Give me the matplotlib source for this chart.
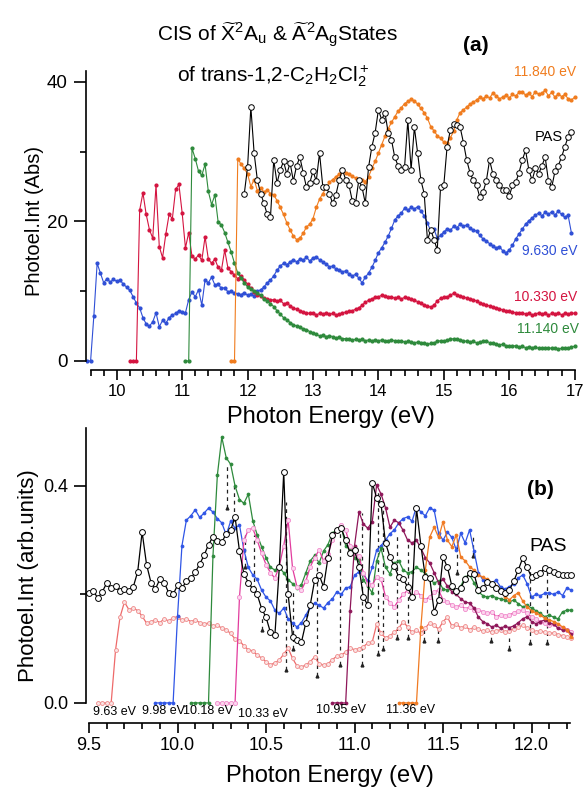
import matplotlib
matplotlib.use("Agg")
import matplotlib.pyplot as plt
import numpy as np
from matplotlib.ticker import MultipleLocator, FormatStrFormatter

plt.rcParams['font.family'] = ['Liberation Sans', 'DejaVu Sans']
plt.rcParams['mathtext.fontset'] = 'custom'
plt.rcParams['mathtext.rm'] = 'Liberation Sans'
plt.rcParams['mathtext.it'] = 'Liberation Sans:italic'
plt.rcParams['mathtext.bf'] = 'Liberation Sans:bold'

# ---------------- panel (a): CIS, absolute photoelectron intensity ----------------
# each series sampled every 0.05 eV from its start energy
a_step = 0.05

a_blue_start = 9.55   # 9.630 eV
a_blue = [0, 0, 6.5, 14.0, 12.6, 11.2, 11.8, 11.3, 11.7, 11.4, 11.6, 11.0, 10.6, 10.1, 9.2, 8.3,
          7.6, 6.2, 5.3, 5.0, 5.6, 6.9, 4.9, 5.8, 5.4, 6.2, 6.6, 6.8, 7.2, 7.0, 6.9, 8.8, 9.9, 9.2,
          10.2, 8.0, 11.6, 11.2, 12.0, 10.9, 11.0, 10.4, 10.5, 9.9, 10.0, 9.7, 9.6, 9.5, 9.8, 9.4,
          9.6, 9.3, 10.0, 10.2, 10.6, 11.2, 11.6, 12.2, 13.0, 13.6, 14.0, 13.8, 14.2, 14.5, 14.2,
          14.6, 14.4, 14.9, 14.3, 14.8, 14.9, 14.5, 14.2, 13.9, 13.5, 13.6, 13.2, 13.0, 12.8, 12.9,
          12.5, 12.2, 12.4, 11.9, 11.2, 12.0, 12.6, 13.4, 14.4, 15.5, 16.2, 17.0, 17.9, 19.0, 20.2,
          20.8, 21.2, 21.9, 21.6, 22.0, 21.8, 22.1, 21.5, 20.8, 19.8, 18.6, 18.9, 17.6, 18.0, 18.5,
          18.9, 18.7, 19.3, 19.1, 19.6, 19.3, 19.5, 19.0, 18.8, 18.6, 18.0, 17.5, 17.2, 16.8, 16.5,
          16.2, 16.4, 15.8, 15.5, 15.9, 16.6, 17.5, 18.2, 18.9, 19.6, 20.1, 20.5, 20.9, 21.2, 20.8,
          21.3, 21.0, 21.4, 20.9, 21.5, 21.0, 20.6, 20.9, 18.4]

a_red_start = 10.20   # 10.330 eV
a_red = [0, 0, 0, 21.6, 24.1, 21.0, 18.8, 17.6, 25.2, 16.4, 14.8, 18.2, 21.0, 20.4, 24.6, 25.3,
         21.2, 16.2, 18.4, 15.0, 14.6, 15.2, 14.4, 17.8, 14.6, 14.0, 14.6, 13.4, 13.0, 15.9, 13.3,
         12.8, 12.3, 11.8, 12.2, 11.6, 11.0, 10.4, 9.9, 9.5, 9.3, 9.0, 8.9, 8.7, 8.8, 8.6, 8.7,
         8.2, 8.3, 7.9, 7.6, 7.4, 7.2, 7.0, 6.9, 6.8, 6.9, 6.6, 6.8, 6.7, 6.9, 6.7, 6.8, 6.6, 6.7,
         6.9, 7.0, 7.1, 7.2, 7.4, 7.6, 8.0, 8.4, 8.7, 8.9, 9.1, 9.2, 9.4, 9.3, 9.1, 9.2, 9.0, 9.1,
         8.9, 9.1, 9.0, 8.9, 8.7, 8.5, 8.3, 8.0, 7.9, 7.7, 8.0, 8.6, 9.0, 9.1, 9.2, 9.4, 9.7, 9.5,
         9.3, 9.2, 9.0, 8.9, 8.8, 8.6, 8.3, 8.2, 8.0, 7.9, 7.7, 7.6, 7.5, 7.3, 7.2, 7.1, 7.0, 6.9,
         6.8, 6.9, 6.7, 6.8, 6.6, 6.7, 6.9, 6.7, 6.8, 6.6, 6.8, 6.7, 6.9, 6.6, 6.8, 6.7, 6.9, 6.8]

a_green_start = 11.05   # 11.140 eV
a_green = [0, 0, 30.5, 29.0, 27.2, 26.6, 28.2, 24.3, 22.4, 23.8, 19.9, 19.5, 18.4, 17.0, 15.6,
           14.0, 12.6, 11.9, 11.2, 10.6, 10.3, 10.0, 9.8, 9.4, 8.9, 8.6, 8.2, 7.8, 7.2, 6.7, 6.2,
           5.9, 5.5, 5.2, 5.0, 4.8, 4.6, 4.5, 4.2, 4.0, 3.8, 3.6, 3.7, 3.5, 3.6, 3.5, 3.3, 3.4, 3.2,
           3.2, 3.1, 3.0, 3.1, 3.0, 3.1, 2.9, 3.0, 2.9, 3.0, 2.9, 3.0, 2.8, 2.9, 3.0, 2.9, 2.8, 2.9,
           2.7, 2.8, 2.7, 2.6, 2.7, 2.5, 2.6, 2.4, 2.5, 2.6, 2.8, 2.9, 2.8, 3.0, 3.1, 3.2, 3.1, 3.0,
           2.9, 2.8, 2.7, 2.8, 2.6, 2.7, 2.8, 2.9, 2.6, 2.5, 2.4, 2.3, 2.4, 2.2, 2.2, 2.1, 2.2, 2.0,
           2.1, 1.9, 2.0, 1.9, 2.0, 1.8, 1.9, 1.8, 1.9, 1.8, 1.9, 1.7, 1.8, 1.9, 1.8, 2.0, 2.1]

a_orange_start = 11.75   # 11.840 eV
a_orange = [0, 0, 29.0, 28.2, 27.6, 26.8, 25.0, 26.0, 24.4, 24.8, 24.2, 24.5, 24.0, 23.8, 23.0,
            22.0, 21.0, 19.8, 18.8, 17.9, 17.4, 17.6, 18.3, 19.2, 19.6, 20.4, 22.0, 23.2, 24.0,
            24.8, 25.6, 26.0, 26.4, 26.8, 27.2, 27.0, 26.8, 26.5, 26.2, 25.9, 26.0, 25.7, 26.4,
            27.6, 28.6, 29.8, 31.0, 32.2, 33.3, 34.2, 35.0, 35.8, 36.3, 36.9, 37.2, 37.5, 37.3,
            36.8, 36.2, 35.6, 34.8, 33.6, 33.0, 32.3, 31.9, 31.4, 31.2, 32.0, 32.9, 34.6, 35.6,
            36.0, 36.4, 36.8, 37.1, 37.4, 37.8, 37.6, 38.0, 37.7, 38.4, 38.0, 37.6, 37.8, 38.1,
            37.7, 38.2, 38.0, 38.5, 38.6, 38.1, 38.4, 37.9, 38.6, 38.2, 38.4, 38.8, 38.0, 38.5,
            37.8, 38.3, 37.9, 38.2, 37.6, 37.4, 37.8]

a_pas_start = 11.95
a_pas = [24.0, 27.8, 36.4, 29.8, 25.9, 24.0, 22.6, 21.0, 20.6, 28.8, 25.5, 27.4, 28.6, 26.8,
         28.4, 25.8, 28.0, 29.2, 27.0, 24.9, 25.5, 27.2, 25.8, 29.8, 25.0, 24.9, 24.0, 22.6, 23.8,
         25.9, 27.4, 26.0, 25.2, 23.0, 22.6, 25.9, 24.9, 22.6, 27.8, 30.7, 32.7, 36.0, 34.6, 35.6,
         32.7, 31.7, 29.2, 28.0, 27.4, 27.8, 34.5, 27.4, 33.5, 29.8, 25.9, 24.0, 17.3, 18.8, 17.4,
         15.9, 24.9, 25.2, 30.7, 33.1, 34.0, 33.8, 33.5, 31.3, 28.8, 27.0, 25.9, 25.2, 23.5, 24.2,
         25.8, 28.8, 26.8, 26.0, 25.2, 24.5, 24.5, 23.6, 25.2, 25.6, 27.0, 28.8, 30.2, 27.4, 25.9,
         27.6, 26.8, 28.0, 29.2, 25.8, 24.9, 27.2, 28.0, 29.2, 30.7, 32.1, 32.8]

# ---------------- panel (b): CIS, arbitrary units ----------------
b_step = 0.025

b_red_start = 9.55   # 9.63 eV
b_red = [0, 0, 0, 0, 0.098, 0.158, 0.186, 0.172, 0.175, 0.170, 0.160, 0.147, 0.150, 0.153, 0.148,
         0.155, 0.151, 0.157, 0.159, 0.152, 0.155, 0.150, 0.153, 0.148, 0.146, 0.147, 0.142, 0.143,
         0.138, 0.135, 0.128, 0.118, 0.115, 0.105, 0.098, 0.096, 0.088, 0.083, 0.076, 0.070, 0.074,
         0.079, 0.090, 0.101, 0.082, 0.068, 0.066, 0.070, 0.076, 0.085, 0.072, 0.070, 0.072, 0.080,
         0.086, 0.088, 0.094, 0.101, 0.098, 0.100, 0.104, 0.110, 0.112, 0.145, 0.128, 0.120, 0.124,
         0.130, 0.138, 0.150, 0.140, 0.130, 0.134, 0.128, 0.138, 0.148, 0.143, 0.136, 0.150, 0.158,
         0.142, 0.146, 0.138, 0.142, 0.135, 0.140, 0.136, 0.132, 0.134, 0.130, 0.133, 0.135, 0.131,
         0.133, 0.137, 0.140, 0.143, 0.138, 0.134, 0.131, 0.133, 0.130, 0.128, 0.129, 0.126, 0.124,
         0.122, 0.119]

b_blue_start = 9.875   # 9.98 eV
b_blue = [0, 0, 0, 0, 0, 0.160, 0.290, 0.337, 0.345, 0.356, 0.342, 0.350, 0.359, 0.352, 0.340,
          0.332, 0.310, 0.335, 0.322, 0.328, 0.282, 0.250, 0.236, 0.228, 0.208, 0.195, 0.188, 0.171,
          0.165, 0.175, 0.155, 0.147, 0.140, 0.148, 0.162, 0.177, 0.184, 0.180, 0.175, 0.185, 0.192,
          0.205, 0.200, 0.212, 0.214, 0.235, 0.242, 0.238, 0.225, 0.250, 0.282, 0.290, 0.300, 0.312,
          0.319, 0.332, 0.340, 0.343, 0.335, 0.362, 0.352, 0.345, 0.360, 0.355, 0.313, 0.300, 0.315,
          0.305, 0.282, 0.313, 0.295, 0.319, 0.280, 0.240, 0.227, 0.225, 0.222, 0.226, 0.214, 0.210,
          0.214, 0.220, 0.230, 0.236, 0.220, 0.195, 0.200, 0.198, 0.202, 0.203, 0.200, 0.205, 0.198,
          0.212, 0.208]

b_green_start = 10.075   # 10.18 eV
b_green = [0, 0, 0, 0, 0, 0.270, 0.420, 0.490, 0.452, 0.440, 0.400, 0.375, 0.368, 0.385, 0.336,
           0.310, 0.288, 0.268, 0.250, 0.245, 0.250, 0.240, 0.227, 0.220, 0.212, 0.218, 0.240,
           0.262, 0.272, 0.258, 0.280, 0.292, 0.313, 0.320, 0.324, 0.290, 0.282, 0.268, 0.264,
           0.227, 0.215, 0.203, 0.262, 0.285, 0.250, 0.238, 0.258, 0.262, 0.245, 0.240, 0.242,
           0.250, 0.245, 0.238, 0.228, 0.221, 0.225, 0.210, 0.208, 0.212, 0.205, 0.215, 0.232,
           0.236, 0.222, 0.205, 0.198, 0.195, 0.198, 0.194, 0.192, 0.190, 0.186, 0.190, 0.183,
           0.177, 0.180, 0.175, 0.170, 0.165, 0.159, 0.162, 0.158, 0.155, 0.168, 0.171, 0.171]

b_pink_start = 10.225   # 10.33 eV
b_pink = [0, 0, 0, 0, 0, 0.195, 0.300, 0.319, 0.322, 0.300, 0.276, 0.255, 0.240, 0.230, 0.252,
          0.290, 0.337, 0.248, 0.214, 0.208, 0.225, 0.251, 0.268, 0.282, 0.262, 0.275, 0.300, 0.319,
          0.328, 0.318, 0.290, 0.276, 0.270, 0.240, 0.220, 0.218, 0.232, 0.228, 0.196, 0.185, 0.177,
          0.190, 0.200, 0.208, 0.196, 0.205, 0.198, 0.190, 0.196, 0.204, 0.208, 0.190, 0.186, 0.180,
          0.177, 0.180, 0.174, 0.176, 0.172, 0.171, 0.168, 0.165, 0.168, 0.159, 0.162, 0.160, 0.162,
          0.166, 0.170, 0.171, 0.166, 0.158, 0.154, 0.150, 0.147, 0.143, 0.145, 0.140, 0.138, 0.135,
          0.131]

b_purple_start = 10.875   # 10.95 eV
b_purple = [0, 0, 0, 0, 0.170, 0.290, 0.352, 0.330, 0.322, 0.334, 0.402, 0.385, 0.360, 0.324,
            0.337, 0.332, 0.318, 0.300, 0.295, 0.300, 0.285, 0.268, 0.258, 0.240, 0.221, 0.228,
            0.215, 0.205, 0.200, 0.192, 0.186, 0.184, 0.175, 0.158, 0.150, 0.146, 0.140, 0.143,
            0.138, 0.141, 0.139, 0.142, 0.148, 0.155, 0.159, 0.150, 0.146, 0.150, 0.153, 0.148,
            0.145, 0.138, 0.134, 0.135, 0.127]

b_orange_start = 11.25   # 11.36 eV
b_orange = [0, 0, 0, 0, 0, 0.140, 0.245, 0.306, 0.324, 0.305, 0.334, 0.300, 0.288, 0.310, 0.269,
            0.262, 0.251, 0.245, 0.236, 0.232, 0.228, 0.221, 0.216, 0.205, 0.196, 0.190, 0.198,
            0.203, 0.188, 0.177, 0.170, 0.166, 0.162, 0.156, 0.153, 0.150, 0.146, 0.140, 0.135,
            0.122]

b_pas_start = 9.50
b_pas = [0.203, 0.206, 0.193, 0.205, 0.221, 0.212, 0.215, 0.206, 0.210, 0.207, 0.214, 0.242, 0.315,
         0.255, 0.222, 0.210, 0.228, 0.222, 0.203, 0.200, 0.217, 0.212, 0.224, 0.230, 0.241, 0.256,
         0.272, 0.292, 0.306, 0.298, 0.296, 0.312, 0.318, 0.343, 0.280, 0.238, 0.222, 0.210, 0.200,
         0.174, 0.158, 0.130, 0.125, 0.250, 0.426, 0.200, 0.122, 0.116, 0.112, 0.148, 0.181, 0.227,
         0.236, 0.214, 0.268, 0.310, 0.319, 0.322, 0.300, 0.276, 0.282, 0.251, 0.195, 0.180, 0.406,
         0.378, 0.366, 0.295, 0.269, 0.252, 0.232, 0.228, 0.214, 0.195, 0.359, 0.290, 0.232, 0.230,
         0.168, 0.190, 0.269, 0.250, 0.215, 0.206, 0.212, 0.228, 0.240, 0.238, 0.208, 0.212, 0.223,
         0.220, 0.212, 0.206, 0.203, 0.208, 0.225, 0.245, 0.267, 0.250, 0.232, 0.236, 0.240, 0.249,
         0.245, 0.242, 0.238, 0.236, 0.236, 0.236]

# vibrational progression markers (dashed lines) in panel (b)
vib_x = [10.28, 10.32, 10.38, 10.43, 10.48, 10.61, 10.65, 10.79, 10.92, 11.04, 11.13, 11.16,
         11.24, 11.30, 11.39, 11.47, 11.58, 11.67, 11.77, 11.87, 11.99, 12.09]
vib_top = [0.44, 0.40, 0.31, 0.31, 0.16, 0.37, 0.21, 0.26, 0.32, 0.35, 0.39, 0.37,
           0.31, 0.30, 0.14, 0.14, 0.30, 0.31, 0.135, 0.12, 0.25, 0.25]
vib_bottom = [0.36, 0.34, 0.25, 0.21, 0.135, 0.06, 0.10, 0.05, 0.07, 0.07, 0.09, 0.10,
              0.12, 0.12, 0.115, 0.115, 0.24, 0.27, 0.115, 0.10, 0.11, 0.11]

threshold_labels = ["9.63 eV", "9.98 eV", "10.18 eV", "10.33 eV", "10.95 eV", "11.36 eV"]
threshold_label_x = [9.52, 9.80, 10.03, 10.34, 10.78, 11.18]
threshold_label_y = [-0.017, -0.015, -0.015, -0.020, -0.014, -0.014]


def energies(start, step, values):
    return start + step * np.arange(len(values))


fig = plt.figure(figsize=(5.84, 7.95), dpi=100)
ax1 = fig.add_axes([0.1473, 0.5346, 0.840, 0.3755])
ax2 = fig.add_axes([0.1473, 0.0906, 0.8356, 0.3711])

c_blue = '#2f4fd6'
c_red = '#d41440'
c_green = '#2e8a3c'
c_orange = '#f07c1e'

dot = dict(marker='o', markersize=2.0, linewidth=0.8)
for start, vals, col in [(a_blue_start, a_blue, c_blue), (a_red_start, a_red, c_red),
                         (a_green_start, a_green, c_green), (a_orange_start, a_orange, c_orange)]:
    ax1.plot(energies(start, a_step, vals), vals, color=col, markerfacecolor=col,
             markeredgecolor=col, **dot)
ax1.plot(energies(a_pas_start, a_step, a_pas), a_pas, color='black', linewidth=0.8, marker='o',
         markersize=4.0, markerfacecolor='white', markeredgecolor='black', markeredgewidth=0.7)

ax1.set_xlim(9.53, 17.03)
ax1.set_ylim(-1.3, 41.5)
ax1.text(17.02, 41.4, "11.840 eV", color=c_orange, fontsize=10, ha='right', va='center')
ax1.text(16.82, 32.1, "PAS", color='black', fontsize=10.5, ha='right', va='center')
ax1.text(17.04, 15.8, "9.630 eV", color=c_blue, fontsize=10, ha='right', va='center')
ax1.text(17.04, 9.2, "10.330 eV", color=c_red, fontsize=10, ha='right', va='center')
ax1.text(17.06, 4.6, "11.140 eV", color=c_green, fontsize=10, ha='right', va='center')
ax1.set_xlabel("Photon Energy (eV)", fontsize=17, labelpad=5)
ax1.set_ylabel("Photoel.Int (Abs)", fontsize=14.5, labelpad=2)
ax1.xaxis.set_major_locator(MultipleLocator(1))
ax1.xaxis.set_minor_locator(MultipleLocator(0.2))
ax1.yaxis.set_major_locator(MultipleLocator(20))
ax1.yaxis.set_minor_locator(MultipleLocator(10))
ax1.spines['left'].set_bounds(0, 41.5)
ax1.spines['bottom'].set_bounds(9.6, 17.0)

# panel (b)
b_series = [
    (b_red_start, b_red, '#ee6a6a', '#fbe3e3', '#ef8a8a', 2.8),
    (b_blue_start, b_blue, '#2f55e6', '#2f55e6', '#2f55e6', 2.1),
    (b_green_start, b_green, '#2e8a3c', '#2e8a3c', '#2e8a3c', 2.1),
    (b_pink_start, b_pink, '#e23c9e', '#fcd6ee', '#f08ccc', 3.0),
    (b_purple_start, b_purple, '#8e1659', '#8e1659', '#8e1659', 2.1),
    (b_orange_start, b_orange, '#f07a22', '#f07a22', '#f07a22', 2.1),
]
ax2.vlines(vib_x, vib_bottom, vib_top, colors='#222222', linestyles=(0, (3, 3)), linewidth=0.9)
ax2.plot(vib_x, vib_bottom, linestyle='none', marker='^', markersize=2.0, color='#222222')
for start, vals, col, mfc, mec, ms in b_series:
    ax2.plot(energies(start, b_step, vals), vals, color=col, linewidth=0.9, marker='o',
             markersize=ms, markerfacecolor=mfc, markeredgecolor=mec, markeredgewidth=0.6)
ax2.plot(energies(b_pas_start, b_step, b_pas), b_pas, color='black', linewidth=0.9, marker='o',
         markersize=4.2, markerfacecolor='white', markeredgecolor='black', markeredgewidth=0.7)

for lab, lx, ly in zip(threshold_labels, threshold_label_x, threshold_label_y):
    ax2.text(lx, ly, lab, fontsize=9, ha='left', va='center')
ax2.text(12.2, 0.288, "PAS", fontsize=14, ha='right', va='center')

ax2.set_xlim(9.483, 12.24)
ax2.set_ylim(-0.037, 0.507)
ax2.set_xlabel("Photon Energy (eV)", fontsize=17, labelpad=8)
ax2.set_ylabel("Photoel.Int (arb.units)", fontsize=16, labelpad=3)
ax2.xaxis.set_major_locator(MultipleLocator(0.5))
ax2.xaxis.set_minor_locator(MultipleLocator(0.1))
ax2.yaxis.set_major_locator(MultipleLocator(0.4))
ax2.yaxis.set_minor_locator(MultipleLocator(0.2))
ax2.xaxis.set_major_formatter(FormatStrFormatter('%.1f'))
ax2.yaxis.set_major_formatter(FormatStrFormatter('%.1f'))
ax2.spines['left'].set_bounds(0, 0.507)
ax2.spines['bottom'].set_bounds(9.5, 12.22)

for ax, xs, ys in [(ax1, 12, 13.5), (ax2, 13, 13)]:
    for side in ['top', 'right']:
        ax.spines[side].set_visible(False)
    for side in ['left', 'bottom']:
        ax.spines[side].set_linewidth(1.2)
    ax.tick_params(axis='x', which='major', direction='out', length=7, width=1.2, labelsize=xs, pad=3)
    ax.tick_params(axis='x', which='minor', direction='out', length=4, width=1.2)
    ax.tick_params(axis='y', which='major', direction='out', length=9, width=1.2, labelsize=ys, pad=4)
    ax.tick_params(axis='y', which='minor', direction='out', length=4, width=1.2)
    ax.set_facecolor('none')

fig.text(0.475, 0.955,
         r"CIS of $\widetilde{\mathrm{X}}^{2}\mathrm{A}_{\mathrm{u}}$ & "
         r"$\widetilde{\mathrm{A}}^{2}\mathrm{A}_{\mathrm{g}}$States",
         fontsize=15, ha='center', va='center')
fig.text(0.468, 0.904, r"of trans-1,2-C$_2$H$_2$Cl$_2^+$", fontsize=15, ha='center', va='center')
fig.text(0.815, 0.943, "(a)", fontsize=15, fontweight='bold', ha='center', va='center')
fig.text(0.926, 0.384, "(b)", fontsize=15, fontweight='bold', ha='center', va='center')

fig.savefig("out.png", dpi=100)
